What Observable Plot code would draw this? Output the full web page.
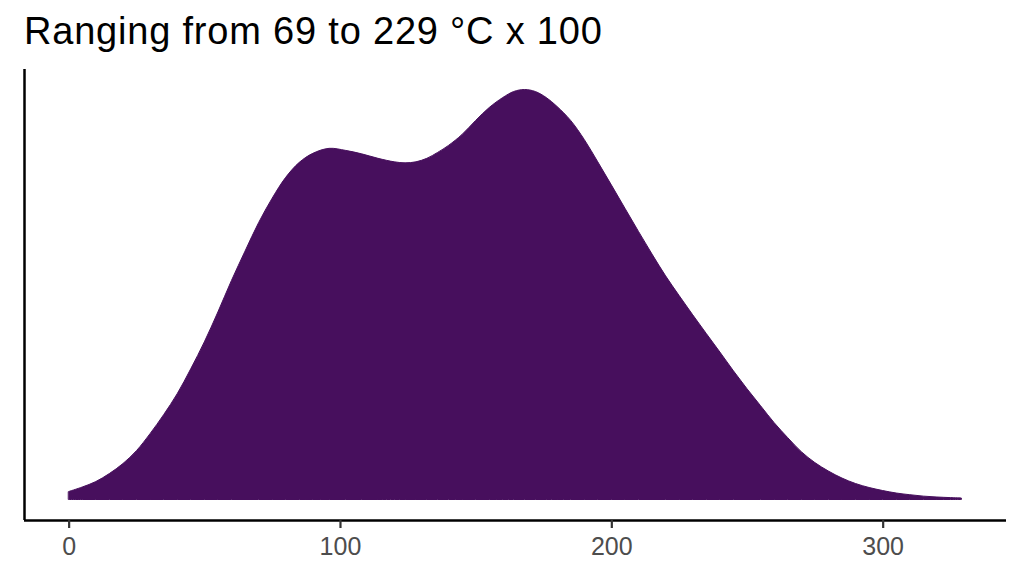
<!DOCTYPE html>
<html>
<head>
<meta charset="utf-8">
<script src="https://cdn.jsdelivr.net/npm/d3@7"></script>
<script src="https://cdn.jsdelivr.net/npm/@observablehq/plot@0.6"></script>
<style>
  html, body { margin: 0; padding: 0; background: #fff; }
  #wrap { position: relative; width: 1024px; height: 576px; overflow: hidden; }
  #title { position: absolute; left: 24px; top: 11.8px; font-family: "Liberation Sans", Arial, sans-serif; font-size: 38px; letter-spacing: 0.8px; line-height: 1; color: #000; white-space: nowrap; }
  #chart { position: absolute; left: 0; top: 60px; }
</style>
</head>
<body>
<div id="wrap">
  <div id="title">Ranging from 69 to 229 °C x 100</div>
  <div id="chart"></div>
</div>
<script>
// Temperature (°C x 100 axis) and estimated kernel density (x 1000)
const temps = [0, 5, 10, 15, 20, 25, 30, 35, 40, 45, 50, 55, 60, 65, 70, 75, 80, 85, 90, 96,
  102, 108, 114, 120, 124, 128, 132, 136, 140, 145, 150, 155, 160, 164, 168, 172, 176, 180, 185, 190,
  195, 200, 205, 210, 215, 220, 225, 230, 235, 240, 245, 250, 255, 260, 265, 270, 275, 280, 285, 290,
  295, 300, 305, 310, 315, 320, 325, 329];
const densities = [0.118, 0.185, 0.266, 0.385, 0.533, 0.725, 0.977, 1.258, 1.569, 1.939, 2.338, 2.782, 3.249, 3.685, 4.107, 4.470, 4.780, 5.002, 5.136, 5.210,
  5.180, 5.128, 5.062, 5.010, 4.995, 5.010, 5.062, 5.150, 5.254, 5.417, 5.624, 5.816, 5.964, 6.053, 6.083, 6.053, 5.964, 5.831, 5.624, 5.343,
  5.010, 4.668, 4.322, 3.978, 3.641, 3.318, 3.025, 2.740, 2.462, 2.188, 1.909, 1.643, 1.391, 1.140, 0.918, 0.710, 0.548, 0.422, 0.318, 0.237,
  0.178, 0.133, 0.096, 0.071, 0.050, 0.037, 0.028, 0.022];
const xTicks = [0, 100, 200, 300];

const data = temps.map((t, i) => ({temp: t, density: densities[i]}));
const xMin = d3.min(temps), xMax = d3.max(temps);
const xPad = (xMax - xMin) * 0.05;
const yMax = d3.max(densities);
const yPad = yMax * 0.05;

const plot = Plot.plot({
  width: 1024,
  height: 516,
  marginTop: 9,
  marginBottom: 56,
  marginLeft: 24,
  marginRight: 18,
  style: {fontFamily: "'Liberation Sans', Arial, sans-serif", background: "#fff", fontSize: "25px"},
  x: {domain: [xMin - xPad, xMax + xPad]},
  y: {domain: [-yPad, yMax + yPad]},
  marks: [
    Plot.areaY(data, {x: "temp", y: "density", fill: "#470F5D", stroke: "#470F5D", strokeWidth: 1, curve: "catmull-rom"}),
    Plot.ruleX([xMin - xPad], {stroke: "#000", strokeWidth: 2.5}),
    Plot.ruleY([-yPad], {stroke: "#000", strokeWidth: 2.5}),
    Plot.axisX(xTicks, {tickSize: 8, tickPadding: 9, stroke: "#333", strokeWidth: 2.2, fill: "#4D4D4D", fontSize: 25, label: null}),
    Plot.axisY({ticks: [], label: null})
  ]
});
document.getElementById("chart").appendChild(plot);
</script>
</body>
</html>
